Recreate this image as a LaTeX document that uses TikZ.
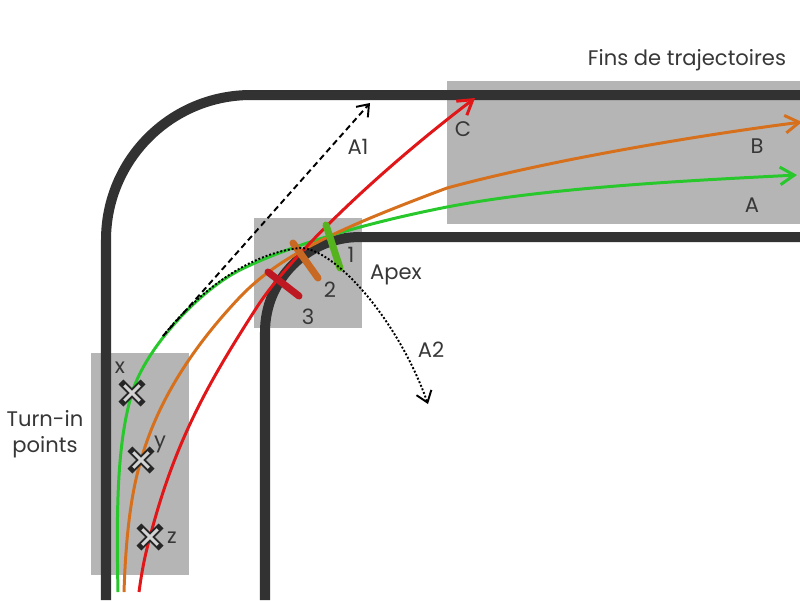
\documentclass[tikz,border=0pt]{standalone}
\usepackage{fontspec}
\setmainfont{Poppins}
\usetikzlibrary{arrows.meta,shapes.misc}
\definecolor{trackgray}{RGB}{50,50,50}
\definecolor{zonegray}{RGB}{181,181,181}
\definecolor{txtgray}{RGB}{55,55,55}
\definecolor{lgreen}{RGB}{40,200,45}
\definecolor{lorange}{RGB}{215,112,28}
\definecolor{lred}{RGB}{225,22,25}
\definecolor{tgreen}{RGB}{85,180,30}
\definecolor{torange}{RGB}{200,105,35}
\definecolor{tred}{RGB}{190,25,35}

\begin{document}
\begin{tikzpicture}[x=0.02cm, y=-0.02cm,
    every node/.style={font=\fontsize{12}{14.7}\selectfont, text=txtgray},
    zone/.style={fill=zonegray},
    wall/.style={draw=trackgray, line width=5.7pt},
    traj/.style={line width=1.7pt, -{Straight Barb[length=8pt,width=10pt]}},
    apextick/.style={line width=4pt, line cap=round},
    crossblack/.style={cross out, draw=black!85, line width=4pt, minimum size=0.3cm, inner sep=0pt},
    crosslight/.style={cross out, draw=zonegray!60!white, line width=1.7pt, minimum size=0.25cm, inner sep=0pt}]
    \useasboundingbox (0,0) rectangle (800,600);
    \fill[zone] (91,353) rectangle (189,575);
    \fill[zone] (254,218) rectangle (362,328);
    \fill[zone] (447,81) rectangle (800,224);
    \draw[wall, rounded corners=2.9cm] (106,600) -- (106,95) -- (800,95);
    \draw[wall, rounded corners=1.9cm] (265,600) -- (265,237) -- (800,237);
    \coordinate (gS) at (118,592);
    \coordinate (oS) at (124,592);
    \coordinate (rS) at (139,592);
    \coordinate (gE) at (797,175);
    \coordinate (oE) at (802,122);
    \coordinate (rE) at (475,98);
    \coordinate (mx) at (132,393);
    \coordinate (my) at (141,460);
    \coordinate (mz) at (150,537);
    \draw[traj, lgreen] (gS) .. controls (116,500) and (118,440) .. (mx)
        .. controls (146,347) and (200,290) .. (240,270)
        .. controls (280,250) and (350,226) .. (447,207)
        .. controls (550,187) and (700,180) .. (gE);
    \draw[traj, lorange] (oS) .. controls (126,530) and (132,490) .. (my)
        .. controls (155,410) and (185,355) .. (240,297)
        .. controls (280,255) and (340,228) .. (447,188)
        .. controls (550,160) and (700,135) .. (oE);
    \draw[traj, lred] (rS) .. controls (142,570) and (145,555) .. (mz)
        .. controls (175,440) and (210,380) .. (257,307)
        .. controls (290,256) and (380,170) .. (rE);
    \node[crossblack] (xb) at (mx) {};
    \node[crosslight] (xl) at (mx) {};
    \node[crossblack] (yb) at (my) {};
    \node[crosslight] (yl) at (my) {};
    \node[crossblack] (zb) at (mz) {};
    \node[crosslight] (zl) at (mz) {};
    \draw[apextick, tgreen] (326,225) -- (340,268);
    \draw[apextick, torange] (293,243) -- (318,278);
    \draw[apextick, tred] (268,272) -- (299,296);
    \coordinate (a1s) at (163,336);
    \coordinate (a1e) at (370,103);
    \coordinate (a2e) at (428,404);
    \draw[line width=1.1pt, dash pattern=on 3.4pt off 2.2pt, -{Straight Barb[length=6pt,width=9pt]}] (a1s) -- (a1e);
    \draw[line width=1.1pt, dash pattern=on 1.1pt off 1.1pt, -{Straight Barb[length=6pt,width=9pt]}]
        (a1s) .. controls (200,290) and (250,253) .. (300,248)
        .. controls (335,248) and (398,320) .. (a2e);
    \node (fins) at (687,60) {Fins de trajectoires};
    \node[align=center] (turnin) at (45,434) {Turn-in\\points};
    \node (apex) at (396,275) {Apex};
    \node (lC) at (463,129) {C};
    \node (lB) at (757,146) {B};
    \node (lA) at (752,205) {A};
    \node (lA1) at (358,147) {A1};
    \node (lA2) at (431,350) {A2};
    \node (l1) at (351,255) {1};
    \node (l2) at (330,290) {2};
    \node (l3) at (308,317) {3};
    \node (lx) at (120,368) {x};
    \node (ly) at (160,444) {y};
    \node (lz) at (172,538) {z};
\end{tikzpicture}
\end{document}
